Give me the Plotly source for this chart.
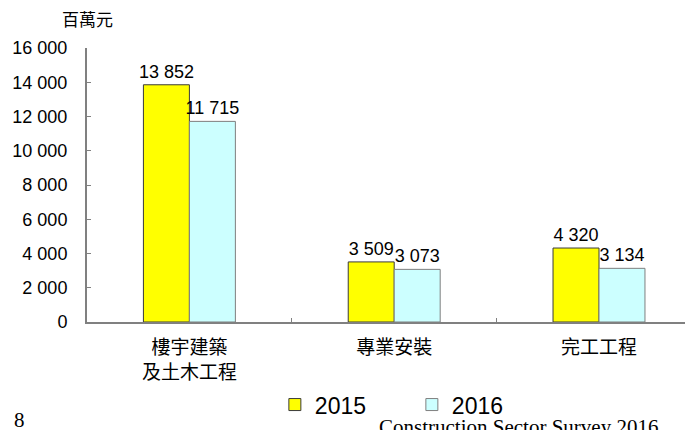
import plotly.graph_objects as go

categories = ["樓宇建築<br>及土木工程", "專業安裝", "完工工程"]
values_2015 = [13852, 3509, 4320]
values_2016 = [11715, 3073, 3134]
series_names = ["2015", "2016"]
y_ticks = [0, 2000, 4000, 6000, 8000, 10000, 12000, 14000, 16000]

FONT = "Liberation Sans, Arial, Noto Sans CJK TC, sans-serif"
CJK = "Noto Sans CJK TC, Liberation Sans, sans-serif"
SERIF = "Liberation Serif, Times New Roman, serif"

fig = go.Figure()
fig.add_trace(go.Bar(
    x=categories, y=values_2015, name=series_names[0],
    marker=dict(color="#FFFF00", line=dict(color="#3a3a3a", width=1)),
    texttemplate="%{y:,d}", textposition="outside", constraintext="none",
    textfont=dict(family=FONT, size=18, color="#000000"),
    cliponaxis=False,
))
fig.add_trace(go.Bar(
    x=categories, y=values_2016, name=series_names[1],
    marker=dict(color="#CCFFFF", line=dict(color="#7f7f7f", width=1)),
    texttemplate="%{y:,d}", textposition="outside", constraintext="none",
    textfont=dict(family=FONT, size=18, color="#000000"),
    cliponaxis=False,
))

fig.update_layout(
    width=693, height=430,
    margin=dict(l=79, r=8, t=40, b=116, autoexpand=False),
    paper_bgcolor="white", plot_bgcolor="white",
    separators=". ",
    barmode="group", bargap=0.551, bargroupgap=0,
    font=dict(family=FONT, size=18, color="#000000"),
    showlegend=True,
    legend=dict(
        orientation="h", x=0.31, y=-0.223, xanchor="left", yanchor="top",
        font=dict(family=FONT, size=23, color="#000000"),
        itemwidth=30, entrywidth=92, entrywidthmode="pixels",
        bgcolor="rgba(0,0,0,0)", tracegroupgap=0,
    ),
    xaxis=dict(
        type="category", range=[-0.5, 2.459],
        showline=True, linecolor="#808080", linewidth=2,
        ticks="inside", ticklen=4, tickcolor="#808080", tickwidth=1,
        tickson="boundaries",
        tickfont=dict(family=CJK, size=19, color="#000000"),
        showgrid=False, zeroline=False,
        ticklabelstandoff=7,
    ),
    yaxis=dict(
        range=[0, 16000], tickvals=y_ticks, tickformat=",d",
        showline=True, linecolor="#808080", linewidth=2,
        ticks="inside", ticklen=4, tickcolor="#808080", tickwidth=1,
        tickfont=dict(family=FONT, size=18, color="#000000"),
        showgrid=False, zeroline=False,
        ticklabelstandoff=14,
    ),
    annotations=[
        dict(text="百萬元", xref="paper", yref="paper", x=0.0, y=1.106,
             xanchor="center", yanchor="middle", showarrow=False,
             font=dict(family=CJK, size=17, color="#000000")),
        dict(text="8", xref="paper", yref="paper", x=-0.112, y=-0.358,
             xanchor="center", yanchor="middle", showarrow=False,
             font=dict(family=SERIF, size=21, color="#000000")),
        dict(text="Construction Sector Survey 2016", xref="paper", yref="paper",
             x=0.479, y=-0.383, xanchor="left", yanchor="middle", showarrow=False,
             font=dict(family=SERIF, size=21, color="#000000")),
    ],
)

fig.write_html("out.html")
